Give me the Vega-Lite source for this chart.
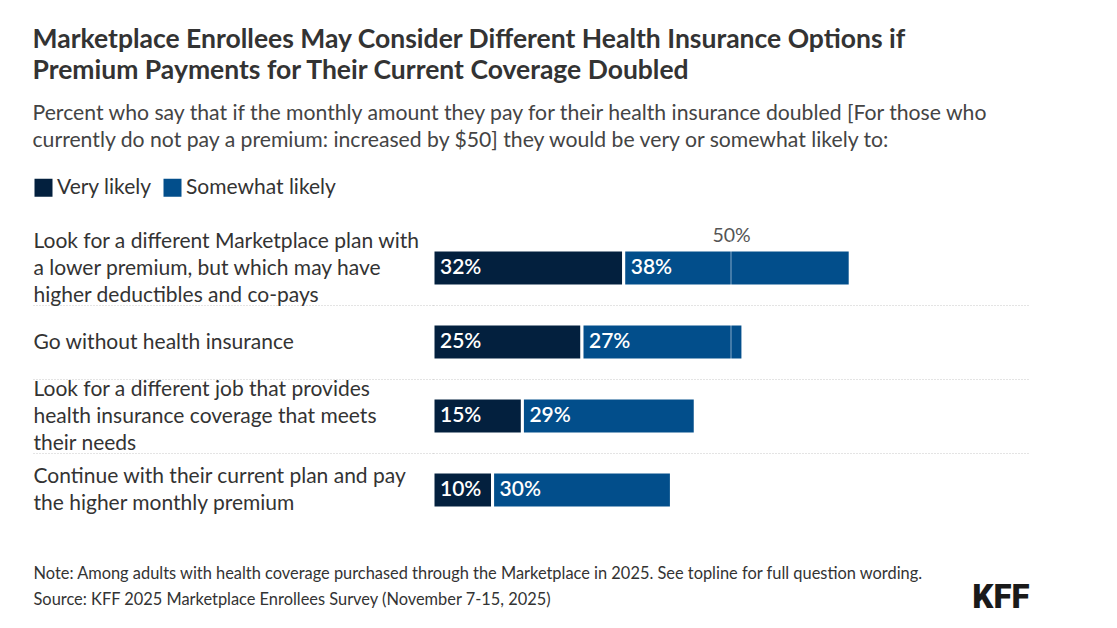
{
  "$schema": "https://vega.github.io/schema/vega-lite/v6.json",
  "autosize": {"type": "none"},
  "width": 596,
  "height": 296,
  "padding": {"left": 433, "top": 231, "right": 88, "bottom": 101},
  "background": "white",
  "config": {"view": {"stroke": null}, "font": "Lato"},
  "title": {
    "text": ["Marketplace Enrollees May Consider Different Health Insurance Options if", "Premium Payments for Their Current Coverage Doubled"],
    "subtitle": ["Percent who say that if the monthly amount they pay for their health insurance doubled [For those who", "currently do not pay a premium: increased by $50] they would be very or somewhat likely to:"],
    "anchor": "start",
    "frame": "bounds",
    "font": "Lato",
    "fontSize": 26.5,
    "fontWeight": "bold",
    "color": "#333333",
    "lineHeight": 31,
    "subtitleFont": "Lato",
    "subtitleFontSize": 21.2,
    "subtitleColor": "#444444",
    "subtitleLineHeight": 27,
    "subtitlePadding": 18,
    "offset": 26
  },
  "data": {
    "values": [
      {"item": "Look for a different Marketplace plan with|a lower premium, but which may have|higher deductibles and co-pays", "response": "Very likely", "pct": 0.32},
      {"item": "Look for a different Marketplace plan with|a lower premium, but which may have|higher deductibles and co-pays", "response": "Somewhat likely", "pct": 0.38},
      {"item": "Go without health insurance", "response": "Very likely", "pct": 0.25},
      {"item": "Go without health insurance", "response": "Somewhat likely", "pct": 0.27},
      {"item": "Look for a different job that provides|health insurance coverage that meets|their needs", "response": "Very likely", "pct": 0.15},
      {"item": "Look for a different job that provides|health insurance coverage that meets|their needs", "response": "Somewhat likely", "pct": 0.29},
      {"item": "Continue with their current plan and pay|the higher monthly premium", "response": "Very likely", "pct": 0.10},
      {"item": "Continue with their current plan and pay|the higher monthly premium", "response": "Somewhat likely", "pct": 0.30}
    ]
  },
  "resolve": {"axis": {"x": "independent"}},
  "layer": [
    {
      "transform": [
        {"stack": "pct", "groupby": ["item"], "sort": [{"field": "response", "order": "descending"}], "as": ["x0", "x1"]}
      ],
      "encoding": {
        "y": {
          "field": "item",
          "type": "nominal",
          "sort": null,
          "scale": {"paddingInner": 0.514, "paddingOuter": 0.257},
          "axis": {
            "title": null,
            "domain": false,
            "orient": "left",
            "ticks": true,
            "tickSize": 400,
            "tickColor": "#c8c8c8",
            "tickDash": [1, 2],
            "tickWidth": 1,
            "tickOffset": -37,
            "tickOpacity": {"condition": {"test": "datum.index === 0", "value": 0}, "value": 1},
            "grid": true,
            "gridColor": "#c8c8c8",
            "gridDash": [1, 2],
            "gridWidth": 1,
            "gridOpacity": {"condition": {"test": "datum.index === 0", "value": 0}, "value": 1},
            "labelOffset": {"condition": [
              {"test": "length(split(datum.value, '|')) === 3", "value": 10},
              {"test": "length(split(datum.value, '|')) === 2", "value": 23.5}
            ], "value": 37},
            "labelAlign": "left",
            "labelBaseline": "middle",
            "labelPadding": 0,
            "labelLimit": 430,
            "labelFont": "Lato",
            "labelFontSize": 21,
            "labelColor": "#333333",
            "labelLineHeight": 27,
            "labelExpr": "split(datum.label, '|')"
          }
        }
      },
      "layer": [
        {
          "mark": {"type": "bar", "stroke": "white", "strokeWidth": 3},
          "encoding": {
            "x": {
              "field": "x0",
              "type": "quantitative",
              "scale": {"domain": [0, 1], "nice": false},
              "axis": {
                "orient": "bottom",
                "values": [1],
                "labelExpr": "'KFF'",
                "labelAlign": "right",
                "labelBaseline": "top",
                "labelFont": "Roboto",
                "labelFontSize": 33,
                "labelFontWeight": 900,
                "labelColor": "#1a1a1a",
                "labelPadding": 54,
                "labelFlush": false,
                "ticks": false,
                "domain": false,
                "grid": false,
                "title": ["Note: Among adults with health coverage purchased through the Marketplace in 2025. See topline for full question wording.", "Source: KFF 2025 Marketplace Enrollees Survey (November 7-15, 2025)"],
                "titleX": -400,
                "titleY": 38,
                "titleAlign": "left",
                "titleBaseline": "top",
                "titleFont": "Lato",
                "titleFontSize": 16.4,
                "titleFontWeight": "normal",
                "titleColor": "#333333",
                "titleLineHeight": 26
              }
            },
            "x2": {"field": "x1"},
            "color": {
              "field": "response",
              "type": "nominal",
              "scale": {"domain": ["Very likely", "Somewhat likely"], "range": ["#03203e", "#024e8b"]},
              "legend": {
                "orient": "none",
                "legendX": -400,
                "legendY": -54,
                "direction": "horizontal",
                "title": null,
                "symbolType": "square",
                "symbolSize": 324,
                "symbolStrokeWidth": 0,
                "symbolOpacity": 1,
                "labelFont": "Lato",
                "labelFontSize": 21,
                "labelColor": "#333333",
                "labelOffset": 3,
                "columnSpacing": 12,
                "padding": 0
              }
            }
          }
        },
        {
          "mark": {"type": "text", "align": "left", "baseline": "middle", "dx": 7, "color": "white", "font": "Lato", "fontSize": 21, "fontWeight": 600},
          "encoding": {
            "x": {"field": "x0", "type": "quantitative"},
            "text": {"field": "pct", "type": "quantitative", "format": ".0%"}
          }
        }
      ]
    },
    {
      "data": {"values": [{"ref": 0.5}]},
      "mark": {"type": "rule", "color": "white", "opacity": 0.35, "strokeWidth": 1.5},
      "encoding": {
        "x": {
          "field": "ref",
          "type": "quantitative",
          "axis": {
            "orient": "top",
            "values": [0.5],
            "format": ".0%",
            "labelFont": "Lato",
            "labelFontSize": 19.5,
            "labelColor": "#555555",
            "labelBaseline": "alphabetic",
            "labelPadding": -10,
            "ticks": false,
            "domain": false,
            "grid": false,
            "title": null
          }
        }
      }
    }
  ]
}
